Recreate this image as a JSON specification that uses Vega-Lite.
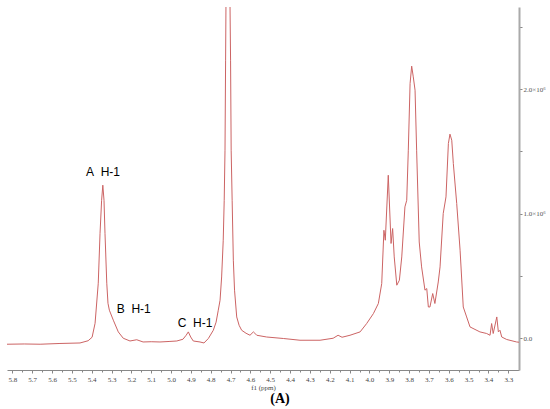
{
  "$schema": "https://vega.github.io/schema/vega-lite/v6.json",
  "width": 512,
  "height": 363,
  "autosize": {"type": "none"},
  "padding": {"left": 7, "top": 7, "right": 31, "bottom": 39},
  "background": "white",
  "config": {"view": {"stroke": null}, "axis": {"grid": false, "labelOverlap": false, "labelBound": false, "labelSeparation": 0}},
  "title": {"text": "(A)", "orient": "bottom", "font": "Liberation Serif", "fontSize": 14, "fontWeight": "bold", "color": "#000000", "dx": 17, "offset": 2},
  "datasets": {
    "spectrum": [
      {"ppm": 5.827, "intensity_1e6": -0.048},
      {"ppm": 5.74, "intensity_1e6": -0.046},
      {"ppm": 5.66, "intensity_1e6": -0.048},
      {"ppm": 5.56, "intensity_1e6": -0.042},
      {"ppm": 5.459, "intensity_1e6": -0.038},
      {"ppm": 5.418, "intensity_1e6": -0.02},
      {"ppm": 5.398, "intensity_1e6": 0.008},
      {"ppm": 5.383, "intensity_1e6": 0.12},
      {"ppm": 5.367, "intensity_1e6": 0.442},
      {"ppm": 5.358, "intensity_1e6": 0.843},
      {"ppm": 5.35, "intensity_1e6": 1.108},
      {"ppm": 5.344, "intensity_1e6": 1.229},
      {"ppm": 5.338, "intensity_1e6": 1.108},
      {"ppm": 5.333, "intensity_1e6": 0.843},
      {"ppm": 5.324, "intensity_1e6": 0.442},
      {"ppm": 5.318, "intensity_1e6": 0.281},
      {"ppm": 5.311, "intensity_1e6": 0.225},
      {"ppm": 5.291, "intensity_1e6": 0.145},
      {"ppm": 5.266, "intensity_1e6": 0.051},
      {"ppm": 5.241, "intensity_1e6": 0.0},
      {"ppm": 5.207, "intensity_1e6": -0.022},
      {"ppm": 5.173, "intensity_1e6": -0.012},
      {"ppm": 5.141, "intensity_1e6": -0.03},
      {"ppm": 5.1, "intensity_1e6": -0.028},
      {"ppm": 5.056, "intensity_1e6": -0.03},
      {"ppm": 5.01, "intensity_1e6": -0.026},
      {"ppm": 4.971, "intensity_1e6": -0.022},
      {"ppm": 4.94, "intensity_1e6": -0.008},
      {"ppm": 4.924, "intensity_1e6": 0.024},
      {"ppm": 4.913, "intensity_1e6": 0.051},
      {"ppm": 4.901, "intensity_1e6": 0.01},
      {"ppm": 4.888, "intensity_1e6": -0.022},
      {"ppm": 4.854, "intensity_1e6": -0.03},
      {"ppm": 4.834, "intensity_1e6": -0.038},
      {"ppm": 4.812, "intensity_1e6": -0.002},
      {"ppm": 4.787, "intensity_1e6": 0.064},
      {"ppm": 4.773, "intensity_1e6": 0.129},
      {"ppm": 4.762, "intensity_1e6": 0.225},
      {"ppm": 4.753, "intensity_1e6": 0.305},
      {"ppm": 4.745, "intensity_1e6": 0.492},
      {"ppm": 4.737, "intensity_1e6": 0.787},
      {"ppm": 4.732, "intensity_1e6": 1.108},
      {"ppm": 4.728, "intensity_1e6": 1.51},
      {"ppm": 4.725, "intensity_1e6": 2.233},
      {"ppm": 4.723, "intensity_1e6": 2.715},
      {"ppm": 4.713, "intensity_1e6": 8.0},
      {"ppm": 4.703, "intensity_1e6": 2.715},
      {"ppm": 4.7, "intensity_1e6": 2.233},
      {"ppm": 4.697, "intensity_1e6": 1.51},
      {"ppm": 4.692, "intensity_1e6": 1.108},
      {"ppm": 4.686, "intensity_1e6": 0.627},
      {"ppm": 4.68, "intensity_1e6": 0.386},
      {"ppm": 4.669, "intensity_1e6": 0.171},
      {"ppm": 4.657, "intensity_1e6": 0.104},
      {"ppm": 4.644, "intensity_1e6": 0.064},
      {"ppm": 4.622, "intensity_1e6": 0.04},
      {"ppm": 4.602, "intensity_1e6": 0.024},
      {"ppm": 4.585, "intensity_1e6": 0.051},
      {"ppm": 4.568, "intensity_1e6": 0.024},
      {"ppm": 4.518, "intensity_1e6": 0.01},
      {"ppm": 4.434, "intensity_1e6": -0.002},
      {"ppm": 4.35, "intensity_1e6": -0.016},
      {"ppm": 4.249, "intensity_1e6": -0.016},
      {"ppm": 4.183, "intensity_1e6": 0.0},
      {"ppm": 4.158, "intensity_1e6": 0.024},
      {"ppm": 4.138, "intensity_1e6": 0.008},
      {"ppm": 4.098, "intensity_1e6": 0.024},
      {"ppm": 4.047, "intensity_1e6": 0.051},
      {"ppm": 4.014, "intensity_1e6": 0.118},
      {"ppm": 3.98, "intensity_1e6": 0.198},
      {"ppm": 3.955, "intensity_1e6": 0.279},
      {"ppm": 3.938, "intensity_1e6": 0.439},
      {"ppm": 3.927, "intensity_1e6": 0.867},
      {"ppm": 3.92, "intensity_1e6": 0.787},
      {"ppm": 3.905, "intensity_1e6": 1.309},
      {"ppm": 3.891, "intensity_1e6": 0.761},
      {"ppm": 3.883, "intensity_1e6": 0.881},
      {"ppm": 3.875, "intensity_1e6": 0.653},
      {"ppm": 3.862, "intensity_1e6": 0.426},
      {"ppm": 3.849, "intensity_1e6": 0.466},
      {"ppm": 3.837, "intensity_1e6": 0.653},
      {"ppm": 3.821, "intensity_1e6": 1.055},
      {"ppm": 3.812, "intensity_1e6": 1.108},
      {"ppm": 3.804, "intensity_1e6": 1.51},
      {"ppm": 3.795, "intensity_1e6": 2.046},
      {"ppm": 3.787, "intensity_1e6": 2.185},
      {"ppm": 3.779, "intensity_1e6": 2.099},
      {"ppm": 3.77, "intensity_1e6": 1.992},
      {"ppm": 3.762, "intensity_1e6": 1.51},
      {"ppm": 3.749, "intensity_1e6": 0.773},
      {"ppm": 3.737, "intensity_1e6": 0.573},
      {"ppm": 3.72, "intensity_1e6": 0.386},
      {"ppm": 3.711, "intensity_1e6": 0.399},
      {"ppm": 3.703, "intensity_1e6": 0.251},
      {"ppm": 3.695, "intensity_1e6": 0.251},
      {"ppm": 3.681, "intensity_1e6": 0.359},
      {"ppm": 3.67, "intensity_1e6": 0.279},
      {"ppm": 3.653, "intensity_1e6": 0.452},
      {"ppm": 3.644, "intensity_1e6": 0.573},
      {"ppm": 3.628, "intensity_1e6": 1.002},
      {"ppm": 3.614, "intensity_1e6": 1.135},
      {"ppm": 3.602, "intensity_1e6": 1.564},
      {"ppm": 3.594, "intensity_1e6": 1.639},
      {"ppm": 3.585, "intensity_1e6": 1.59},
      {"ppm": 3.577, "intensity_1e6": 1.403},
      {"ppm": 3.56, "intensity_1e6": 1.082},
      {"ppm": 3.543, "intensity_1e6": 0.707},
      {"ppm": 3.527, "intensity_1e6": 0.251},
      {"ppm": 3.51, "intensity_1e6": 0.171},
      {"ppm": 3.493, "intensity_1e6": 0.091},
      {"ppm": 3.443, "intensity_1e6": 0.051},
      {"ppm": 3.409, "intensity_1e6": 0.038},
      {"ppm": 3.392, "intensity_1e6": 0.024},
      {"ppm": 3.384, "intensity_1e6": 0.118},
      {"ppm": 3.376, "intensity_1e6": 0.038},
      {"ppm": 3.358, "intensity_1e6": 0.171},
      {"ppm": 3.35, "intensity_1e6": 0.051},
      {"ppm": 3.342, "intensity_1e6": 0.064},
      {"ppm": 3.333, "intensity_1e6": 0.01},
      {"ppm": 3.308, "intensity_1e6": -0.01},
      {"ppm": 3.258, "intensity_1e6": -0.03},
      {"ppm": 3.246, "intensity_1e6": -0.032}
    ],
    "labels": [
      {"ppm": 5.343, "intensity_1e6": 1.333, "label": "A\u00a0\u00a0H-1"},
      {"ppm": 5.188, "intensity_1e6": 0.237, "label": "B\u00a0\u00a0H-1"},
      {"ppm": 4.879, "intensity_1e6": 0.12, "label": "C\u00a0\u00a0H-1"}
    ]
  },
  "encoding": {
    "x": {
      "field": "ppm", "type": "quantitative",
      "scale": {"domain": [5.827, 3.246], "nice": false, "zero": false},
      "axis": {
        "title": "f1 (ppm)",
        "titleFont": "Liberation Serif", "titleFontSize": 7, "titleFontWeight": "normal", "titleColor": "#444444", "titlePadding": 1,
        "values": [5.8,5.75,5.7,5.65,5.6,5.55,5.5,5.45,5.4,5.35,5.3,5.25,5.2,5.15,5.1,5.05,5.0,4.95,4.9,4.85,4.8,4.75,4.7,4.65,4.6,4.55,4.5,4.45,4.4,4.35,4.3,4.25,4.2,4.15,4.1,4.05,4.0,3.95,3.9,3.85,3.8,3.75,3.7,3.65,3.6,3.55,3.5,3.45,3.4,3.35,3.3],
        "labelExpr": "abs(datum.value*10 - round(datum.value*10)) < 0.01 ? format(datum.value, '.1f') : ''",
        "labelFont": "Liberation Serif", "labelFontSize": 7, "labelColor": "#444444", "labelPadding": 2,
        "domainColor": "#888888", "domainWidth": 1,
        "tickColor": "#888888", "tickWidth": 1,
        "tickSize": {"condition": {"test": "abs(datum.value*10 - round(datum.value*10)) < 0.01", "value": 3}, "value": 2},
        "labelFlush": false, "labelOverlap": false, "labelBound": false, "labelSeparation": 0
      }
    },
    "y": {
      "field": "intensity_1e6", "type": "quantitative",
      "scale": {"domain": [-0.255, 2.66], "nice": false, "zero": false},
      "axis": {
        "orient": "right",
        "title": null,
        "values": [0, 0.5, 1, 1.5, 2, 2.5],
        "labelExpr": "datum.value == 0 ? '0.0' : (datum.value == 1 || datum.value == 2) ? format(datum.value, '.1f') + '×10⁶' : ''",
        "labelFont": "Liberation Serif", "labelFontSize": 7, "labelColor": "#555555", "labelPadding": 1,
        "domainColor": "#aaaaaa", "domainWidth": 2,
        "tickColor": "#888888", "tickSize": 3, "tickWidth": 1,
        "labelOverlap": false
      }
    }
  },
  "layer": [
    {
      "data": {"name": "spectrum"},
      "mark": {"type": "line", "color": "#cc6464", "strokeWidth": 1, "clip": true}
    },
    {
      "data": {"name": "labels"},
      "mark": {"type": "text", "font": "Liberation Sans", "fontSize": 12, "color": "#000000", "align": "center", "baseline": "middle"},
      "encoding": {
        "text": {"field": "label"}
      }
    }
  ]
}
